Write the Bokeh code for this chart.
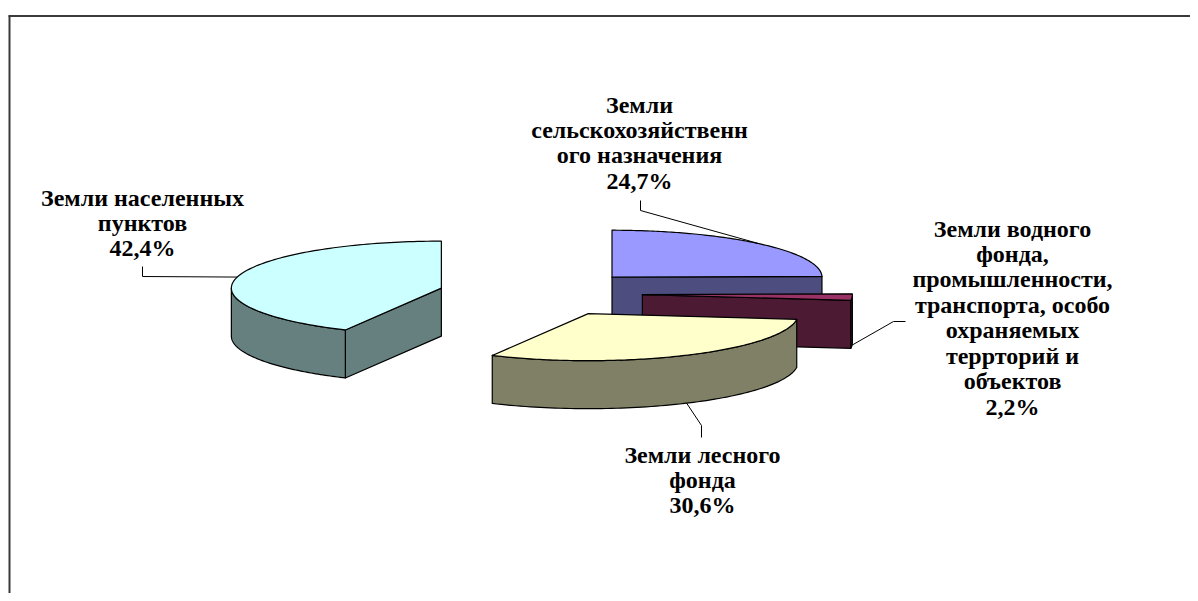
import numpy as np
from bokeh.plotting import figure
from bokeh.models import Range1d
from bokeh.embed import file_html
from bokeh.resources import INLINE
from bokeh.core.properties import value

# ---------------- data ----------------
categories = [
    "Земли\nсельскохозяйственн\nого назначения",
    "Земли водного\nфонда,\nпромышленности,\nтранспорта, особо\nохраняемых\nтеррторий и\nобъектов",
    "Земли лесного\nфонда",
    "Земли населенных\nпунктов",
]
shares = [24.7, 2.2, 30.6, 42.4]
pct_labels = ["24,7%", "2,2%", "30,6%", "42,4%"]
top_colors = ["#9999FF", "#993366", "#FFFFCC", "#CCFFFF"]
side_colors = ["#4D4D80", "#4D1A33", "#808066", "#668080"]

# ---------------- layout (page pixel coordinates) ----------------
W, H = 1190, 593
CX, CY = 540.0, 293.0      # pie centre
RX, RY = 210.0, 47.0       # ellipse radii of top face
DEPTH = 48.0               # thickness
EXPLODE = 102.0            # explode distance (x units)
K = RY / RX

# label text anchor (centre x, top y) and leader elbow/attach points
label_pos = [(639, 91), (1012, 215), (702, 441), (142, 184)]
leader_start = [(640, 200), (905, 321), (701, 437), (142, 266)]
leader_elbow = [(640, 210), (893, 321), (701, 425), (142, 276)]

p = figure(width=W, height=H, output_backend="svg", toolbar_location=None,
           x_range=Range1d(0, W), y_range=Range1d(H, 0),
           min_border=0)
p.axis.visible = False
p.grid.visible = False
p.outline_line_color = None
p.background_fill_color = "white"
p.border_fill_color = "white"

# chart area border (top and left edges visible in the crop)
p.segment(x0=[8, 9], y0=[15.5, 15], x1=[W, 9], y1=[15.5, H],
          line_color="#3a3a3a", line_width=2)

total = sum(shares)
angles = np.cumsum([0] + [s / total * 360.0 for s in shares])


def ell(t, ox, oy, dz=0.0):
    r = np.radians(t)
    return ox + RX * np.sin(r), oy - RY * np.cos(r) + dz


slices = []
for i, s in enumerate(shares):
    a, b = angles[i], angles[i + 1]
    m = (a + b) / 2
    mr = np.radians(m)
    ox = CX + EXPLODE * np.sin(mr)
    oy = CY - EXPLODE * K * np.cos(mr)
    slices.append((oy, i, a, b, m, ox))

xs, ys, fills = [], [], []
for oy, i, a, b, m, ox in sorted(slices):
    # radial start face
    if np.sin(np.radians(a)) < -1e-6:
        ex, ey = ell(a, ox, oy)
        xs.append([ox, ex, ex, ox]); ys.append([oy, ey, ey + DEPTH, oy + DEPTH])
        fills.append(side_colors[i])
    # radial end face
    if np.sin(np.radians(b)) > 1e-6:
        ex, ey = ell(b, ox, oy)
        xs.append([ox, ex, ex, ox]); ys.append([oy, ey, ey + DEPTH, oy + DEPTH])
        fills.append(side_colors[i])
    # outer rim (front half)
    lo, hi = max(a, 90.0), min(b, 270.0)
    if hi > lo:
        t = np.linspace(lo, hi, 80)
        tx, ty = ell(t, ox, oy)
        xs.append(list(tx) + list(tx[::-1]))
        ys.append(list(ty) + list((ty + DEPTH)[::-1]))
        fills.append(side_colors[i])
    # top face
    t = np.linspace(a, b, 120)
    tx, ty = ell(t, ox, oy)
    xs.append([ox] + list(tx)); ys.append([oy] + list(ty))
    fills.append(top_colors[i])

p.patches(xs=xs, ys=ys, fill_color=fills, line_color="black", line_width=1.2,
          line_join="round")

# leader lines
for oy, i, a, b, m, ox in slices:
    px, py = ell(m, ox, oy)
    if np.cos(np.radians(m)) < 0:
        py = py + DEPTH
    sx, sy = leader_start[i]
    ex, ey = leader_elbow[i]
    p.line(x=[sx, ex, px], y=[sy, ey, py], line_color="black", line_width=1)

# labels
texts = [c + "\n" + pc for c, pc in zip(categories, pct_labels)]
p.text(x=[lp[0] for lp in label_pos], y=[lp[1] for lp in label_pos], text=texts,
       text_align="center", text_baseline="top",
       text_font=value("'Liberation Serif', 'Times New Roman', serif"),
       text_font_style="bold",
       text_font_size="24px", text_line_height=0.98, text_color="black")

open("out.html", "w").write(file_html(p, INLINE))
